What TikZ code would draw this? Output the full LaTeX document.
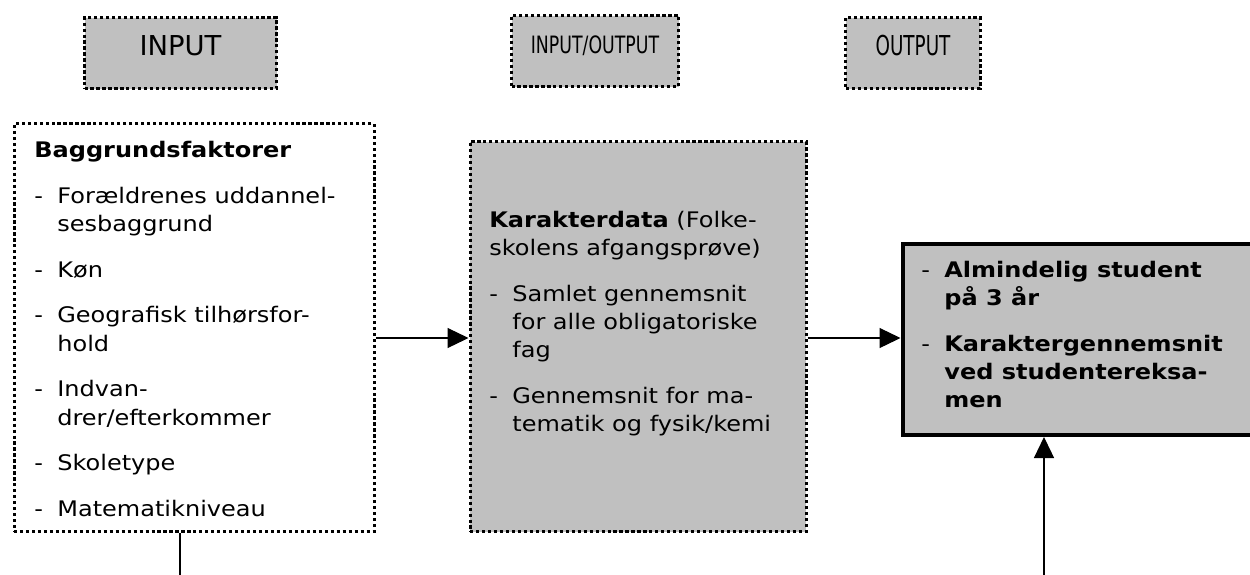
\documentclass[tikz,border=0pt]{standalone}
\usepackage{fontspec}
\setmainfont{DejaVu Sans}[FakeStretch=1.12]
\newfontfamily\labelfont{DejaVu Sans}
\usetikzlibrary{arrows.meta}
\definecolor{boxgray}{HTML}{C0C0C0}

\begin{document}
\begin{tikzpicture}[
    dotbox/.style={draw, line width=1.8pt, dash pattern=on 1.8pt off 1.6pt},
    headbox/.style={dotbox, fill=boxgray, inner sep=0pt, anchor=base, text height=0.75cm, text depth=0.67cm, font=\labelfont\fontsize{15.6pt}{18pt}\selectfont},
    liste/.style={inner sep=0pt, anchor=north west, font=\fontsize{12.2pt}{0.565cm}\selectfont},
    pil/.style={line width=0.7pt, -{Triangle[length=0.42cm, width=0.4cm]}}
]
            \useasboundingbox (0,0) rectangle (25,-11.48);

            \node[headbox, minimum width=3.84cm] (hin) at (3.61,-1.1) {INPUT};
            \node[headbox, minimum width=3.34cm] (hinout) at (11.9,-1.06) {\scalebox{0.725}[1]{\fontsize{13.6pt}{16pt}\selectfont INPUT/OUTPUT}};
            \node[headbox, minimum width=2.69cm] (hout) at (18.26,-1.1) {\scalebox{0.67}[1]{OUTPUT}};

            \node[dotbox, minimum width=7.2cm, minimum height=8.16cm, anchor=north west] (bag) at (0.25,-2.44) {};
            \node[dotbox, fill=boxgray, minimum width=6.72cm, minimum height=7.8cm, anchor=north west] (kar) at (9.37,-2.8) {};
            \node[draw, line width=2.27pt, fill=boxgray, minimum width=7.4cm, minimum height=3.82cm, anchor=north west] (res) at (18.01,-4.84) {};

            \node[liste] (bagtxt) at (0.68,-2.744) {\begin{tabular}{@{}p{0.46cm}@{}l@{}}
                \multicolumn{2}{@{}l@{}}{\textbf{Baggrundsfaktorer}}\\[0.35cm]
                - & Forældrenes uddannel-\\
                  & sesbaggrund\\[0.35cm]
                - & Køn\\[0.35cm]
                - & Geografisk tilhørsfor-\\
                  & hold\\[0.35cm]
                - & Indvan-\\
                  & drer/efterkommer\\[0.35cm]
                - & Skoletype\\[0.35cm]
                - & Matematikniveau
            \end{tabular}};

            \node[liste] (kartxt) at (9.78,-4.144) {\begin{tabular}{@{}p{0.46cm}@{}l@{}}
                \multicolumn{2}{@{}l@{}}{\textbf{Karakterdata} (Folke-}\\
                \multicolumn{2}{@{}l@{}}{skolens afgangsprøve)}\\[0.35cm]
                - & Samlet gennemsnit\\
                  & for alle obligatoriske\\
                  & fag\\[0.35cm]
                - & Gennemsnit for ma-\\
                  & tematik og fysik/kemi
            \end{tabular}};

            \node[liste] (restxt) at (18.42,-5.144) {\begin{tabular}{@{}p{0.46cm}@{}l@{}}
                - & \textbf{Almindelig student}\\
                  & \textbf{på 3 år}\\[0.35cm]
                - & \textbf{Karaktergennemsnit}\\
                  & \textbf{ved studentereksa-}\\
                  & \textbf{men}
            \end{tabular}};

            \coordinate (pilrad) at (0,-6.76);
            \draw[pil] (bag.east |- pilrad) -- (kar.west |- pilrad);
            \draw[pil] (kar.east |- pilrad) -- (res.west |- pilrad);

            \coordinate (bagfod) at (3.6,-11.7);
            \draw[line width=0.7pt] (bagfod |- bag.south) -- (bagfod);
            \coordinate (resfod) at (20.88,-11.7);
            \draw[pil] (resfod) -- (resfod |- res.south);

\end{tikzpicture}
\end{document}
